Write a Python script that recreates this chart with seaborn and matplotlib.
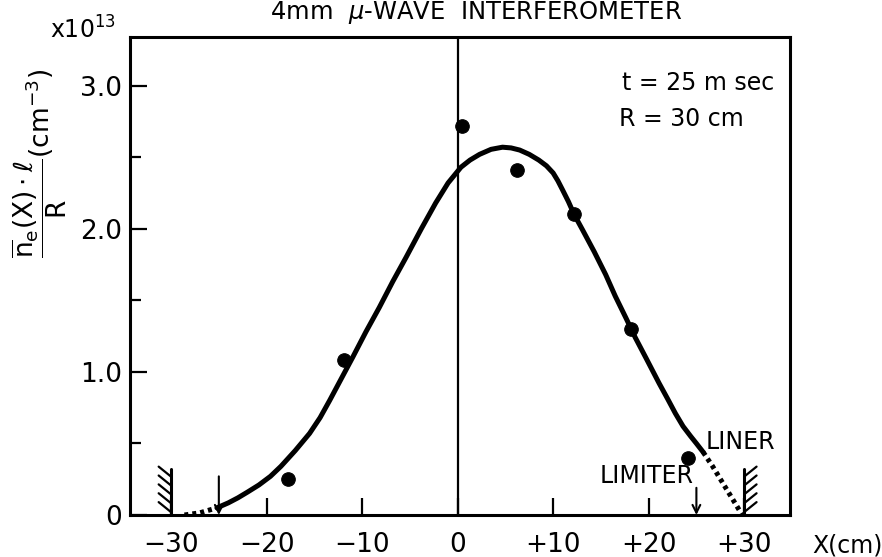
import numpy as np
import pandas as pd
import matplotlib
matplotlib.use("Agg")
import matplotlib.pyplot as plt
import seaborn as sns

# measured line density points (units of 1e13 cm^-3)
x_meas = [-17.8, -11.9, 0.5, 6.2, 12.2, 18.2, 24.1]
y_meas = [0.25, 1.08, 2.72, 2.41, 2.10, 1.30, 0.40]

# drawn profile, solid part
curve_x = [-25.2, -24.0, -23.0, -22.0, -20.8, -19.6, -18.5, -17.0, -15.5, -14.4,
           -13.4, -12.2, -11.0, -9.6, -8.2, -6.8, -5.4, -3.8, -2.3, -1.0,
           0.35, 1.3, 2.3, 3.5, 4.7, 5.6, 6.5, 7.5, 8.5, 9.3,
           10.0, 10.5, 11.0, 11.6, 12.2, 13.1, 14.3, 15.5, 16.5, 17.6,
           18.6, 19.7, 21.1, 22.0, 22.8, 23.6, 24.4, 25.0, 25.7]
curve_y = [0.05, 0.085, 0.12, 0.16, 0.21, 0.27, 0.34, 0.45, 0.57, 0.68,
           0.80, 0.95, 1.10, 1.28, 1.45, 1.63, 1.80, 2.00, 2.18, 2.32,
           2.43, 2.48, 2.52, 2.555, 2.57, 2.565, 2.55, 2.52, 2.48, 2.44,
           2.39, 2.335, 2.27, 2.19, 2.10, 1.99, 1.84, 1.68, 1.53, 1.38,
           1.24, 1.10, 0.92, 0.81, 0.71, 0.62, 0.55, 0.50, 0.44]

# dotted extrapolation towards the walls
left_x = [-28.6, -27.0, -25.2]
left_y = [0.0, 0.015, 0.05]
right_x = [25.7, 26.7, 27.7, 28.8, 29.8]
right_y = [0.44, 0.34, 0.23, 0.11, 0.0]

x_ticks = [-30, -20, -10, 0, 10, 20, 30]
x_labels = ['\u221230', '\u221220', '\u221210', '0', '+10', '+20', '+30']
y_ticks = [0, 1.0, 2.0, 3.0]
y_labels = ['0', '1.0', '2.0', '3.0']
y_minor = [0.5, 1.5, 2.5]

wall_x = [-30, 30]
wall_h = 0.32
limiter_x = [-25, 25]
limiter_top = [0.27, 0.19]

sns.set_style("ticks")
plt.rcParams['font.family'] = ['DejaVu Sans']
plt.rcParams['mathtext.fontset'] = 'dejavusans'
for key in ['text.color', 'axes.labelcolor', 'xtick.color', 'ytick.color', 'axes.edgecolor']:
    plt.rcParams[key] = 'black'

fig = plt.figure(figsize=(8.82, 5.57), dpi=100)
ax = fig.add_axes([130 / 882, 1 - 515 / 557, 660 / 882, 478 / 557])

df_curve = pd.DataFrame({'x': curve_x, 'y': curve_y})
df_meas = pd.DataFrame({'x': x_meas, 'y': y_meas})

sns.lineplot(data=df_curve, x='x', y='y', ax=ax, color='black', lw=3.6, sort=False)
ax.plot(left_x, left_y, color='black', lw=3.6, ls=(0, (0.8, 0.8)))
ax.plot(right_x, right_y, color='black', lw=3.6, ls=(0, (0.8, 0.8)))
sns.scatterplot(data=df_meas, x='x', y='y', ax=ax, color='black', s=95,
                edgecolor='black', zorder=5)

ax.axvline(0, color='black', lw=1.6)

# walls with hatching
for wx in wall_x:
    side = -1 if wx < 0 else 1
    ax.plot([wx, wx], [0, wall_h], color='black', lw=2.2)
    for k in range(5):
        y0 = 0.02 + k * 0.062
        if side < 0:
            ax.plot([wx - 1.3, wx], [y0 + 0.07, y0], color='black', lw=1.6)
        else:
            ax.plot([wx, wx + 1.3], [y0, y0 + 0.07], color='black', lw=1.6)

# limiter arrows
for lx, lt in zip(limiter_x, limiter_top):
    ax.annotate('', xy=(lx, 0.0), xytext=(lx, lt),
                arrowprops=dict(arrowstyle='->', color='black', lw=1.5,
                                mutation_scale=14, shrinkA=0, shrinkB=0))

ax.set_xlim(-34.3, 34.8)
ax.set_ylim(0, 3.34)
ax.set_xticks(x_ticks)
ax.set_xticklabels(x_labels, fontsize=19)
ax.set_yticks(y_ticks)
ax.set_yticklabels(y_labels, fontsize=19)
ax.set_yticks(y_minor, minor=True)
ax.tick_params(axis='both', which='major', direction='in', length=12, width=1.6)
ax.tick_params(axis='x', which='major', pad=12)
ax.tick_params(axis='y', which='major', pad=6)
ax.tick_params(axis='y', which='minor', direction='in', length=8, width=1.6)
ax.set_xlabel('')
ax.set_ylabel('')
for sp in ax.spines.values():
    sp.set_linewidth(2.2)
    sp.set_visible(True)

ax.text(26.0, 0.51, 'LINER', fontsize=17, va='center', ha='left')
ax.text(19.8, 0.27, 'LIMITER', fontsize=17, va='center', ha='center')
ax.text(17.2, 3.02, 't = 25 m sec', fontsize=17, va='center', ha='left')
ax.text(16.9, 2.77, 'R = 30 cm', fontsize=17, va='center', ha='left')

fig.text(812 / 882, 1 - 545 / 557, 'X(cm)', fontsize=17, va='center', ha='left')
fig.text(476 / 882, 1 - 13 / 557, r'4mm  $\mu$-WAVE  INTERFEROMETER',
         fontsize=17.5, va='center', ha='center')
fig.text(40 / 882, 1 - 163 / 557,
         r'$\dfrac{\overline{\mathrm{n}}_\mathrm{e}(\mathrm{X})\cdot\ell}{\mathrm{R}}$(cm$^{-3}$)',
         fontsize=19, rotation=90, va='center', ha='center')
fig.text(50 / 882, 1 - 30 / 557, r'x10$^{13}$', fontsize=17, va='center', ha='left')

fig.savefig('out.png', dpi=100)
